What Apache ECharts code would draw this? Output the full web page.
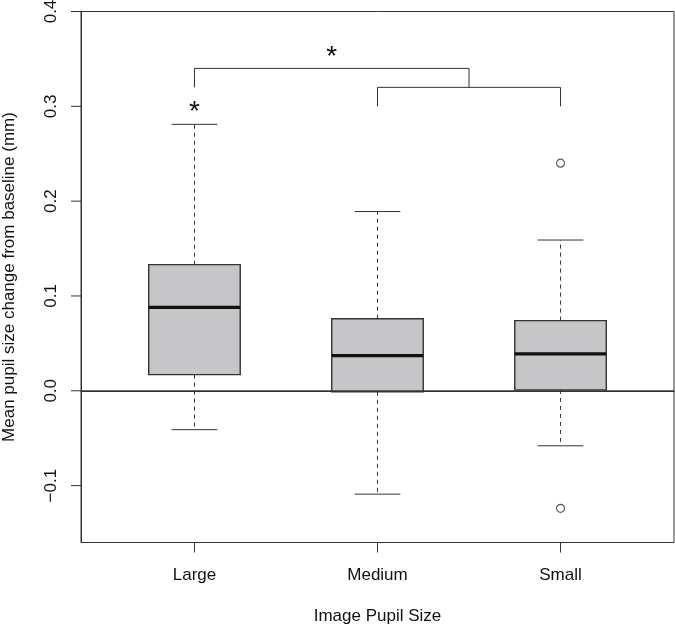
<!DOCTYPE html>
<html>
<head>
<meta charset="utf-8">
<script src="https://cdn.jsdelivr.net/npm/echarts@6/dist/echarts.min.js"></script>
<style>html,body{margin:0;padding:0;background:#fff}#chart{width:675px;height:625px}</style>
</head>
<body>
<div id="chart"></div>
<script>
// ---- data ----
var categories = ['Large', 'Medium', 'Small'];
var lowerWhisker = [-0.041, -0.109, -0.058];
var q1 = [0.017, -0.001, 0.001];
var median = [0.088, 0.037, 0.039];
var q3 = [0.133, 0.076, 0.074];
var upperWhisker = [0.281, 0.189, 0.159];
var outliers = [[3, 0.240], [3, -0.124]];
var yTicks = [-0.1, 0.0, 0.1, 0.2, 0.3, 0.4];
var xTicks = [1, 2, 3];
var referenceLines = [0];
// significance brackets: [xLeft, xRight, yLegLeft, yLegRight, yTop]
var brackets = [[2, 3, 0.300, 0.300, 0.320], [1, 2.5, 0.320, 0.320, 0.340]];
var stars = [[1, 0.300], [1.75, 0.358]];

var FONT = 'Liberation Sans, Arial, Helvetica, sans-serif';
var LINE = '#333';
var TICK_LEN = 10;

var boxData = categories.map(function (c, i) {
  return [xTicks[i], lowerWhisker[i], q1[i], median[i], q3[i], upperWhisker[i]];
});
var tickData = xTicks.map(function (v) { return [v, 0.4, 0]; })
  .concat(yTicks.map(function (v) { return [2, v, 1]; }));

var chart = echarts.init(document.getElementById('chart'), null, {renderer: 'canvas'});
chart.setOption({
  animation: false,
  backgroundColor: '#fff',
  grid: {left: 81, right: 1, top: 11.5, bottom: 82.5, show: true, borderColor: LINE, borderWidth: 1,
    backgroundColor: 'transparent', containLabel: false, outerBoundsMode: 'none'},
  xAxis: {
    type: 'value', min: 0.38, max: 3.62,
    name: 'Image Pupil Size', nameLocation: 'middle', nameGap: 65,
    nameTextStyle: {fontFamily: FONT, fontSize: 17, color: '#111'},
    axisLine: {show: true, lineStyle: {color: LINE, width: 1}},
    axisTick: {show: false},
    axisLabel: {show: true, margin: 24, fontFamily: FONT, fontSize: 17, color: '#111', customValues: xTicks,
      formatter: function (v) { var i = xTicks.indexOf(Math.round(v)); return i >= 0 ? categories[i] : ''; }},
    splitLine: {show: false}
  },
  yAxis: {
    type: 'value', min: -0.16, max: 0.4,
    name: 'Mean pupil size change from baseline (mm)', nameLocation: 'middle', nameGap: 63,
    nameTextStyle: {fontFamily: FONT, fontSize: 17, color: '#111'},
    axisLine: {show: true, lineStyle: {color: LINE, width: 1}},
    axisTick: {show: false},
    axisLabel: {show: true, rotate: 90, margin: 21, fontFamily: FONT, fontSize: 17, color: '#111', customValues: yTicks,
      formatter: function (v) { return (v < 0 ? '\u2212' : '') + Math.abs(v).toFixed(1); }},
    splitLine: {show: false}
  },
  series: [
    {
      type: 'custom', name: 'boxes', data: boxData,
      encode: {x: 0, y: [1, 2, 3, 4, 5]},
      renderItem: function (params, api) {
        var x = api.value(0);
        var lo = api.value(1), a = api.value(2), m = api.value(3), b = api.value(4), hi = api.value(5);
        var hw = 0.25, cw = 0.125;
        var tl = api.coord([x - hw, b]), br = api.coord([x + hw, a]);
        var c = api.coord([x, m]);
        var pLo = api.coord([x, lo]), pHi = api.coord([x, hi]);
        var cl = api.coord([x - cw, 0])[0], cr = api.coord([x + cw, 0])[0];
        var dash = {stroke: LINE, lineWidth: 1, lineDash: [4, 4]};
        var solid = {stroke: LINE, lineWidth: 1};
        return {type: 'group', children: [
          {type: 'line', shape: {x1: c[0], y1: tl[1], x2: c[0], y2: pHi[1]}, style: dash},
          {type: 'line', shape: {x1: c[0], y1: br[1], x2: c[0], y2: pLo[1]}, style: dash},
          {type: 'line', shape: {x1: cl, y1: pHi[1], x2: cr, y2: pHi[1]}, style: solid},
          {type: 'line', shape: {x1: cl, y1: pLo[1], x2: cr, y2: pLo[1]}, style: solid},
          {type: 'rect', shape: {x: tl[0], y: tl[1], width: br[0] - tl[0], height: br[1] - tl[1]},
            style: {fill: '#c6c6c8', stroke: '#333', lineWidth: 1.4}},
          {type: 'line', shape: {x1: tl[0], y1: c[1], x2: br[0], y2: c[1]}, style: {stroke: '#111', lineWidth: 3.2}}
        ]};
      }
    },
    {
      type: 'scatter', name: 'outliers', data: outliers,
      symbol: 'circle', symbolSize: 8,
      itemStyle: {color: '#fff', borderColor: LINE, borderWidth: 1.2}
    },
    {
      type: 'custom', name: 'zero', data: referenceLines.map(function (v) { return [2, v]; }),
      encode: {x: 0, y: 1}, z: 5,
      renderItem: function (params, api) {
        var cs = params.coordSys;
        var y = api.coord([2, api.value(1)])[1];
        return {type: 'line', shape: {x1: cs.x, y1: y, x2: cs.x + cs.width, y2: y}, style: {stroke: LINE, lineWidth: 1}};
      }
    },
    {
      type: 'custom', name: 'ticks', data: tickData, clip: false,
      encode: {x: 0, y: 1}, z: 6,
      renderItem: function (params, api) {
        var cs = params.coordSys;
        var p = api.coord([api.value(0), api.value(1)]);
        if (api.value(2) === 0) {
          var yb = cs.y + cs.height;
          return {type: 'line', shape: {x1: p[0], y1: yb, x2: p[0], y2: yb + TICK_LEN}, style: {stroke: LINE, lineWidth: 1}};
        }
        return {type: 'line', shape: {x1: cs.x - TICK_LEN, y1: p[1], x2: cs.x, y2: p[1]}, style: {stroke: LINE, lineWidth: 1}};
      }
    },
    {
      type: 'custom', name: 'brackets', data: brackets,
      encode: {x: [0, 1], y: [2, 3, 4]},
      renderItem: function (params, api) {
        var pL = api.coord([api.value(0), api.value(2)]);
        var pR = api.coord([api.value(1), api.value(3)]);
        var yT = api.coord([api.value(0), api.value(4)])[1];
        return {type: 'polyline', shape: {points: [[pL[0], pL[1]], [pL[0], yT], [pR[0], yT], [pR[0], pR[1]]]},
          style: {stroke: LINE, lineWidth: 1, fill: null}};
      }
    },
    {
      type: 'custom', name: 'stars', data: stars,
      encode: {x: 0, y: 1},
      renderItem: function (params, api) {
        var p = api.coord([api.value(0), api.value(1)]);
        return {type: 'text', x: p[0], y: p[1] + 6,
          style: {text: '*', fontFamily: FONT, fontSize: 28, fill: '#111', align: 'center', verticalAlign: 'middle'}};
      }
    }
  ]
});
</script>
</body>
</html>
